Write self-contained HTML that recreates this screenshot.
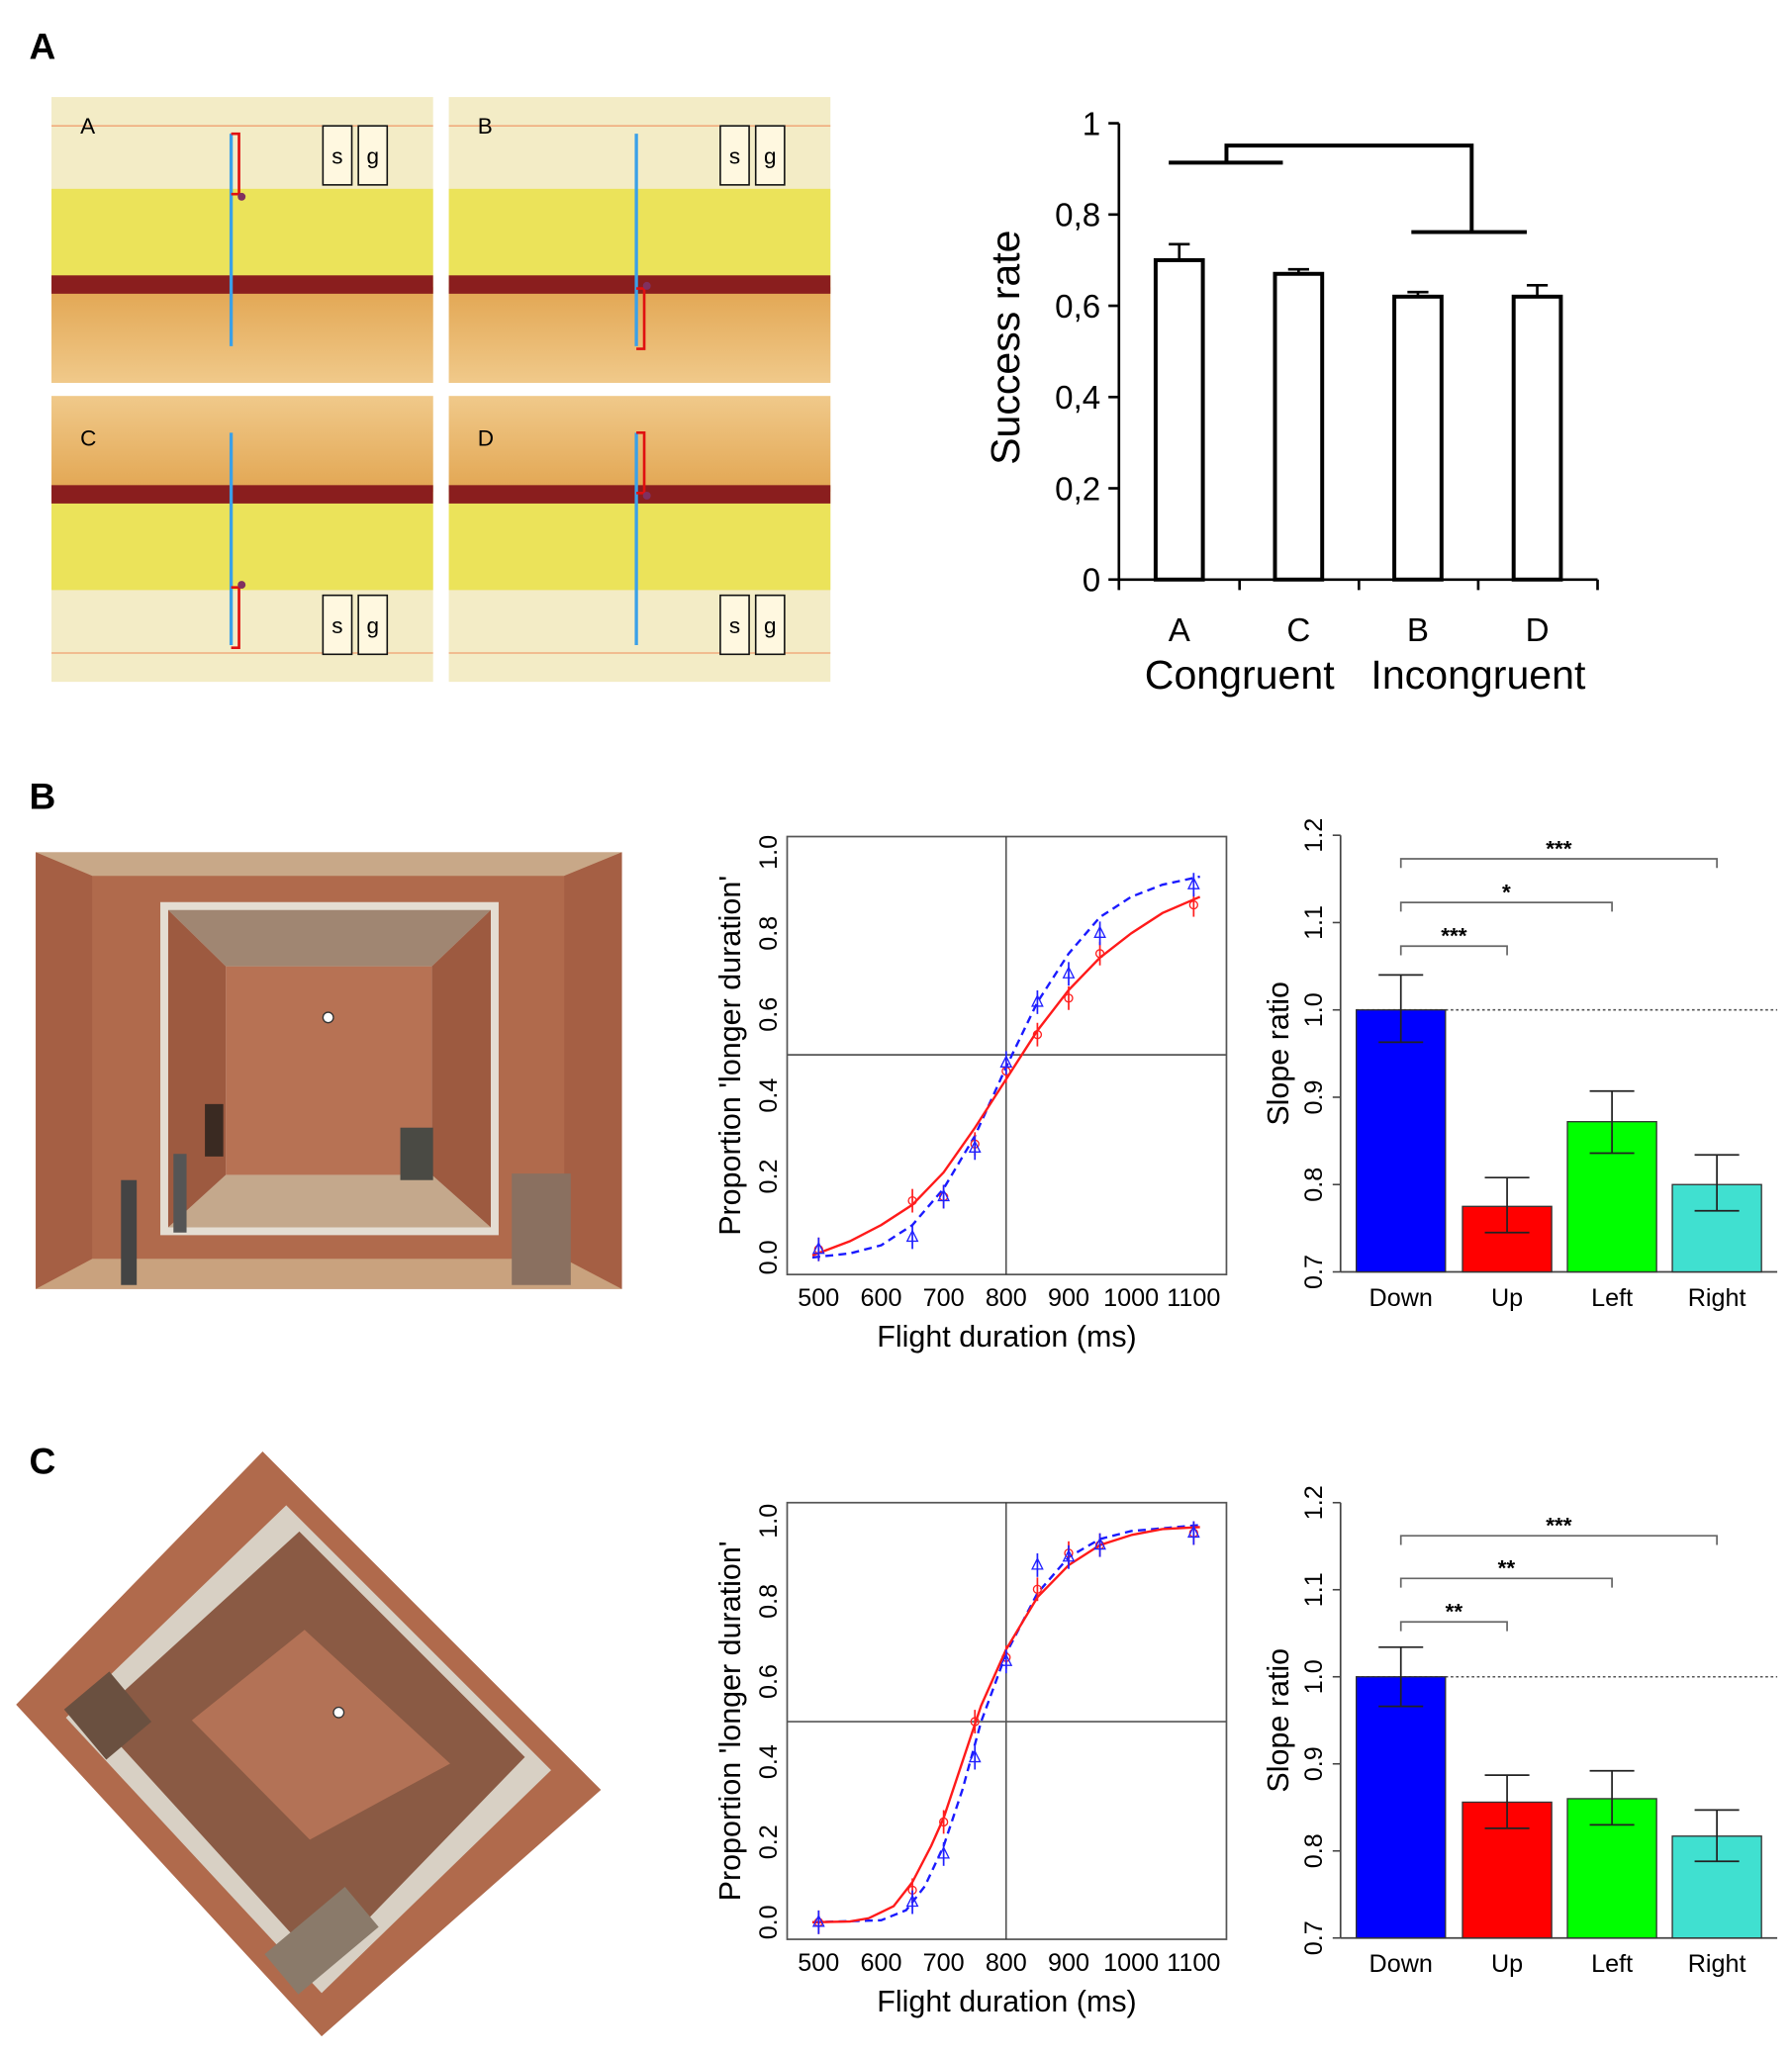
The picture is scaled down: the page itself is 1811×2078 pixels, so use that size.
<!DOCTYPE html>
<html><head><meta charset="utf-8"><style>
html,body{margin:0;padding:0;background:#fff}
svg{display:block}
text{font-family:"Liberation Sans",Arial,sans-serif}
</style></head><body>
<svg id="fig" width="1811" height="2078" viewBox="0 0 1366 1568" xmlns="http://www.w3.org/2000/svg">
<defs>
<linearGradient id="floor" x1="0" y1="0" x2="0" y2="1"><stop offset="0" stop-color="#e2a652"/><stop offset="1" stop-color="#f0c98a"/></linearGradient>
<linearGradient id="floorF" x1="0" y1="1" x2="0" y2="0"><stop offset="0" stop-color="#e2a652"/><stop offset="1" stop-color="#f0c98a"/></linearGradient>
</defs>
<text x="22" y="45" font-size="28" font-weight="bold">A</text>
<text x="22" y="617" font-size="28" font-weight="bold">B</text>
<text x="22" y="1124" font-size="28" font-weight="bold">C</text>
<g id="photosA"></g>
<g id="roomB">
  <rect x="27" y="650" width="447" height="333" fill="#b06a4c"/>
  <polygon points="27,650 474,650 430,668 70,668" fill="#c8a888"/>
  <polygon points="27,983 474,983 430,960 70,960" fill="#c9a27e"/>
  <polygon points="122,688 380,688 380,942 122,942" fill="#e4ddd2"/>
  <polygon points="128,694 374,694 329,737 172,737" fill="#a08672"/>
  <polygon points="128,936 374,936 329,896 172,896" fill="#c4a88c"/>
  <polygon points="128,694 172,737 172,896 128,936" fill="#9d5a40"/>
  <polygon points="374,694 329,737 329,896 374,936" fill="#9d5a40"/>
  <rect x="172" y="737" width="157" height="159" fill="#b77254"/>
  <polygon points="27,650 70,668 70,960 27,983" fill="#a55f44"/>
  <polygon points="474,650 430,668 430,960 474,983" fill="#a55f44"/>
  <circle cx="250" cy="776" r="4" fill="#fff" stroke="#333"/>
  <rect x="156" y="842" width="14" height="40" fill="#3a2a22"/>
  <rect x="92" y="900" width="12" height="80" fill="#444"/>
  <rect x="132" y="880" width="10" height="60" fill="#555"/>
  <rect x="390" y="895" width="45" height="85" fill="#8a7060"/>
  <rect x="305" y="860" width="25" height="40" fill="#4a4a44"/>
</g>
<g id="roomC">
  <polygon points="200,1107 458,1365 245,1553 12,1300" fill="#b06a4c"/>
  <polygon points="218,1148 420,1350 245,1520 50,1310" fill="#d8d0c4"/>
  <polygon points="228,1168 400,1340 245,1500 72,1310" fill="#8a5a44"/>
  <polygon points="232,1243 343,1345 236,1403 146,1312" fill="#b37256"/>
  <rect x="60" y="1285" width="45" height="50" fill="#6a5040" transform="rotate(-40 80 1310)"/>
  <rect x="205" y="1460" width="80" height="40" fill="#8a7a6a" transform="rotate(-40 245 1480)"/>
  <circle cx="258" cy="1306" r="4" fill="#fff" stroke="#333"/>
</g>
<g id="chartA"></g>
<g id="psyB"></g>
<g id="slopeB"></g>
<g id="psyC"></g>
<g id="slopeC"></g>
</svg>
<script>
// ===== Data =====
const aCategories = ['A','C','B','D'];
const aValues = [0.70, 0.67, 0.62, 0.62];
const aErrTop = [0.735, 0.68, 0.63, 0.645];
const aTicks = ['0','0,2','0,4','0,6','0,8','1'];
const aTickVals = [0,0.2,0.4,0.6,0.8,1];

const psyXTicks = [500,600,700,800,900,1000,1100];
const psyYTicks = [0,0.2,0.4,0.6,0.8,1.0];
const psyYLabels = ['0.0','0.2','0.4','0.6','0.8','1.0'];
const pointX = [500,650,700,750,800,850,900,950,1100];
const bRed = [0.02,0.14,0.15,0.28,0.46,0.55,0.64,0.75,0.87];
const bBlue = [0.02,0.05,0.15,0.27,0.48,0.63,0.70,0.80,0.92];
const bRedCurveX = [490,550,600,650,700,750,800,850,900,950,1000,1050,1110];
const bRedCurveY = [0.005,0.04,0.08,0.13,0.21,0.32,0.44,0.56,0.66,0.74,0.80,0.85,0.89];
const bBlueCurveX = [490,550,600,650,700,750,800,850,900,950,1000,1050,1110];
const bBlueCurveY = [0.0,0.01,0.03,0.08,0.17,0.30,0.47,0.63,0.75,0.84,0.89,0.92,0.94];
const cRed = [0.0,0.08,0.25,0.50,0.66,0.83,0.92,0.94,0.97];
const cBlue = [0.0,0.05,0.17,0.41,0.65,0.89,0.91,0.94,0.97];
const cRedCurveX = [490,550,580,620,650,680,700,730,760,800,850,900,950,1000,1050,1110];
const cRedCurveY = [0,0.002,0.01,0.04,0.10,0.19,0.26,0.40,0.54,0.68,0.81,0.89,0.94,0.965,0.98,0.985];
const cBlueCurveX = [490,600,640,670,700,730,760,800,850,900,950,1000,1110];
const cBlueCurveY = [0,0.005,0.03,0.09,0.19,0.33,0.50,0.67,0.82,0.91,0.955,0.975,0.99];

const slopeCats = ['Down','Up','Left','Right'];
const slopeColors = ['#0000ff','#ff0000','#00ff00','#40e0d0'];
const slopeTicks = [0.7,0.8,0.9,1.0,1.1,1.2];
const slopeTickLabels = ['0.7','0.8','0.9','1.0','1.1','1.2'];
const bSlope = [1.0,0.775,0.872,0.80];
const bSlopeLo = [0.963,0.745,0.836,0.77];
const bSlopeHi = [1.04,0.808,0.907,0.834];
const bSig = ['***','*','***'];
const bSigY = [1.173,1.123,1.073];
const cSlope = [1.0,0.856,0.86,0.817];
const cSlopeLo = [0.966,0.826,0.83,0.788];
const cSlopeHi = [1.034,0.887,0.892,0.847];
const cSig = ['***','**','**'];
const cSigY = [1.162,1.113,1.063];
const sigTargets = [3,2,1];

const NS='http://www.w3.org/2000/svg';
function el(parent,tag,attrs,txt){const e=document.createElementNS(NS,tag);for(const k in attrs)e.setAttribute(k,attrs[k]);if(txt!==undefined)e.textContent=txt;parent.appendChild(e);return e;}

// ===== Panel A photos =====
(function(){
  const g=document.getElementById('photosA');
  const boxes=[[39,74,'A',false,'down'],[342,74,'B',false,'up'],[39,302,'C',true,'up'],[342,302,'D',true,'down']];
  boxes.forEach((b,i)=>{
    const [x,y,lab,flip,dir]=b, w=291, h=218;
    const sg=el(g,'g',{});
    
    
    el(sg,'rect',{x:x,y:y,width:w,height:h,fill:'#f3ecc6'});
    const wy1=flip?y+h-150:y+70, wy2=flip?y+h-70:y+150;
    el(sg,'rect',{x:x,y:Math.min(wy1,wy2),width:w,height:80,fill:'#ebe35a'});
    el(sg,'rect',{x:x,y:flip?y:y+145,width:w,height:73,fill:flip?'url(#floorF)':'url(#floor)'});
    el(sg,'rect',{x:x,y:flip?y+h-150:y+136,width:w,height:14,fill:'#8a1e1e'});
    el(sg,'line',{x1:x,y1:flip?y+h-22:y+22,x2:x+w,y2:flip?y+h-22:y+22,stroke:'#f0a070','stroke-width':1});
    el(sg,'text',{x:x+22,y:flip?y+38:y+28,'font-size':17},lab);
    const lx=(lab==='A'||lab==='C')?x+137:x+143;
    el(sg,'line',{x1:lx,y1:y+28,x2:lx,y2:y+190,stroke:'#3aa0e8','stroke-width':2.5});
    const top=(lab==='A'||lab==='D')?y+28:y+146, bot=top+46;
    const rx=lx+6;
    el(sg,'path',{d:`M${lx} ${top}H${rx}V${bot}H${lx}`,stroke:'#e01010','stroke-width':2,fill:'none'});
    el(sg,'circle',{cx:rx+2,cy:dir==='down'?bot+2:top-2,r:3,fill:'#803060'});
    const bx=x+207, by=flip?y+h-66:y+22;
    ['s','g'].forEach((t,j)=>{
      el(sg,'rect',{x:bx+j*27,y:by,width:22,height:45,fill:'#fff8e0',stroke:'#111','stroke-width':1.2});
      el(sg,'text',{x:bx+j*27+11,y:by+29,'font-size':17,'text-anchor':'middle'},t);
    });
  });
})();

// ===== Chart A =====
(function(){
  const g=document.getElementById('chartA');
  const ax=853, y0=442, y1=94;
  const ys=v=>y0-(y0-y1)*v;
  el(g,'line',{x1:ax,y1:ys(1),x2:ax,y2:y0,stroke:'#000','stroke-width':2});
  el(g,'line',{x1:ax,y1:y0,x2:1218,y2:y0,stroke:'#000','stroke-width':2});
  aTickVals.forEach((v,i)=>{
    el(g,'line',{x1:ax-8,y1:ys(v),x2:ax,y2:ys(v),stroke:'#000','stroke-width':2});
    const t=el(g,'text',{x:ax-14,y:ys(v)+9,'font-size':25,'text-anchor':'end'},aTicks[i]);
    
    
  });
  [853,945,1036,1127,1218].forEach(x=>el(g,'line',{x1:x,y1:y0,x2:x,y2:y0+8,stroke:'#000','stroke-width':2}));
  const centers=[899,990,1081,1172];
  aCategories.forEach((c,i)=>{
    const cx=centers[i];
    el(g,'line',{x1:cx,y1:ys(aErrTop[i]),x2:cx,y2:ys(aValues[i]),stroke:'#000','stroke-width':2});
    el(g,'line',{x1:cx-8,y1:ys(aErrTop[i]),x2:cx+8,y2:ys(aErrTop[i]),stroke:'#000','stroke-width':2});
    const r=el(g,'rect',{x:cx-18,y:ys(aValues[i]),width:36,height:y0-ys(aValues[i]),fill:'#fff',stroke:'#000','stroke-width':3});
    
    
    const t=el(g,'text',{x:cx,y:489,'font-size':25,'text-anchor':'middle'},c);
    
    
  });
  const t1=el(g,'text',{x:945,y:525,'font-size':31,'text-anchor':'middle'},'Congruent');
  
  
  const t2=el(g,'text',{x:1127,y:525,'font-size':31,'text-anchor':'middle'},'Incongruent');
  
  
  const yt=el(g,'text',{x:0,y:0,'font-size':31,'text-anchor':'middle',transform:'translate(777,265) rotate(-90)'},'Success rate');
  
  
  el(g,'path',{d:'M891 124H978M935 124V111H1122V177M1076 177H1164',stroke:'#000','stroke-width':3,fill:'none'});
})();

// ===== Psychometric =====
function psy(id,box,y0v,y1v,red,blue,rcx,rcy,bcx,bcy){
  const g=document.getElementById(id);
  const [L,T,R,B]=box;
  const xs=v=>624+(v-500)*(910-624)/600;
  const ys=v=>y0v-(y0v-y1v)*v;
  el(g,'rect',{x:L,y:T,width:R-L,height:B-T,fill:'#fff',stroke:'#555','stroke-width':1.3});
  el(g,'line',{x1:xs(800),y1:T,x2:xs(800),y2:B,stroke:'#333','stroke-width':1});
  el(g,'line',{x1:L,y1:ys(0.5),x2:R,y2:ys(0.5),stroke:'#555','stroke-width':1.3});
  psyXTicks.forEach(v=>{
    const t=el(g,'text',{x:xs(v),y:B+24,'font-size':19,'text-anchor':'middle'},String(v));
    
    
  });
  psyYTicks.forEach((v,i)=>{
    const t=el(g,'text',{x:0,y:0,'font-size':19,'text-anchor':'middle',transform:`translate(${L-8},${ys(v)}) rotate(-90)`},psyYLabels[i]);
    
    
  });
  const xt=el(g,'text',{x:(L+R)/2,y:B+55,'font-size':23,'text-anchor':'middle'},'Flight duration (ms)');
  
  
  const yt=el(g,'text',{x:0,y:0,'font-size':23,'text-anchor':'middle',transform:`translate(${L-36},${(T+B)/2}) rotate(-90)`},"Proportion 'longer duration'");
  
  
  const bp=el(g,'polyline',{points:bcx.map((x,i)=>xs(x)+','+ys(bcy[i])).join(' '),fill:'none',stroke:'#1a1aff','stroke-width':1.8,'stroke-dasharray':'6,4'});
  
  
  const rp=el(g,'polyline',{points:rcx.map((x,i)=>xs(x)+','+ys(rcy[i])).join(' '),fill:'none',stroke:'#ff1a1a','stroke-width':1.8});
  
  
  pointX.forEach((x,i)=>{
    const cx=xs(x), ry=ys(red[i]), by=ys(blue[i]);
    el(g,'line',{x1:cx,y1:ry-9,x2:cx,y2:ry+9,stroke:'#ff2020','stroke-width':1.3});
    const c=el(g,'circle',{cx:cx,cy:ry,r:3,fill:'none',stroke:'#ff2020','stroke-width':1});
    
    
    el(g,'line',{x1:cx,y1:by-9,x2:cx,y2:by+9,stroke:'#2020ff','stroke-width':1.3});
    const p=el(g,'polygon',{points:`${cx},${by-5} ${cx-4},${by+3} ${cx+4},${by+3}`,fill:'none',stroke:'#2020ff','stroke-width':1});
    
    
  });
}
psy('psyB',[600,638,935,972],959,650,bRed,bBlue,bRedCurveX,bRedCurveY,bBlueCurveX,bBlueCurveY);
psy('psyC',[600,1146,935,1479],1466,1160,cRed,cBlue,cRedCurveX,cRedCurveY,cBlueCurveX,cBlueCurveY);

// ===== Slope bars =====
function slope(id,yBase,yTop,vals,lo,hi,sig,sigY){
  const g=document.getElementById(id);
  const ax=1022;
  const ys=v=>yBase-(yBase-yTop)*(v-0.7)/0.5;
  const lefts=[1034,1115,1195,1275], bw=68;
  el(g,'line',{x1:ax,y1:yTop,x2:ax,y2:yBase,stroke:'#444','stroke-width':1.3});
  el(g,'line',{x1:ax,y1:yBase,x2:1355,y2:yBase,stroke:'#444','stroke-width':1.3});
  slopeTicks.forEach((v,i)=>{
    el(g,'line',{x1:ax-6,y1:ys(v),x2:ax,y2:ys(v),stroke:'#444','stroke-width':1.2});
    const t=el(g,'text',{x:0,y:0,'font-size':19,'text-anchor':'middle',transform:`translate(${ax-14},${ys(v)}) rotate(-90)`},slopeTickLabels[i]);
    
    
  });
  const yt=el(g,'text',{x:0,y:0,'font-size':23,'text-anchor':'middle',transform:`translate(${ax-40},${ys(0.95)}) rotate(-90)`},'Slope ratio');
  
  
  el(g,'line',{x1:1034,y1:ys(1),x2:1355,y2:ys(1),stroke:'#555','stroke-width':1.2,'stroke-dasharray':'2,2'});
  slopeCats.forEach((c,i)=>{
    const r=el(g,'rect',{x:lefts[i],y:ys(vals[i]),width:bw,height:yBase-ys(vals[i]),fill:slopeColors[i],stroke:'#333','stroke-width':1});
    
    
    const cx=lefts[i]+bw/2;
    el(g,'path',{d:`M${cx} ${ys(lo[i])}V${ys(hi[i])}M${cx-17} ${ys(lo[i])}H${cx+17}M${cx-17} ${ys(hi[i])}H${cx+17}`,stroke:'#222','stroke-width':1.3,fill:'none'});
    const t=el(g,'text',{x:cx,y:yBase+26,'font-size':19,'text-anchor':'middle'},c);
    
    
  });
  sig.forEach((s,k)=>{
    const x1=lefts[0]+bw/2, x2=lefts[sigTargets[k]]+bw/2, y=ys(sigY[k]);
    el(g,'path',{d:`M${x1} ${y+7}V${y}H${x2}V${y+7}`,stroke:'#666','stroke-width':1.3,fill:'none'});
    const t=el(g,'text',{x:(x1+x2)/2,y:y-2,'font-size':17,'font-weight':'bold','text-anchor':'middle'},s);
    
    
  });
}
slope('slopeB',970,637,bSlope,bSlopeLo,bSlopeHi,bSig,bSigY);
slope('slopeC',1478,1146,cSlope,cSlopeLo,cSlopeHi,cSig,cSigY);
</script>
</body></html>
